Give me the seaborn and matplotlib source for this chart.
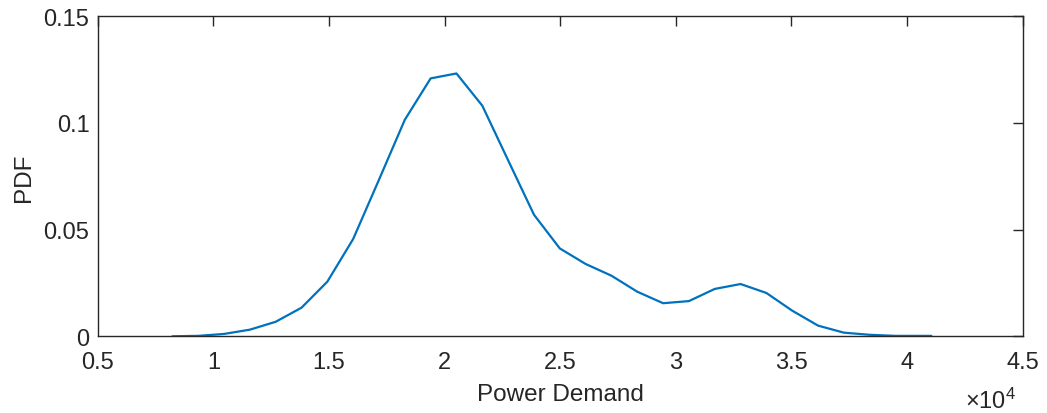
import matplotlib
matplotlib.use("Agg")
import matplotlib.pyplot as plt
import seaborn as sns
import numpy as np

# PDF of power demand
power_demand = [8225, 9342, 10459, 11576, 12693, 13810, 14927, 16044, 17161, 18278,
                19395, 20512, 21629, 22746, 23863, 24980, 26097, 27214, 28331, 29448,
                30565, 31682, 32799, 33916, 35033, 36150, 37267, 38384, 39501, 41050]
pdf = [0.0000, 0.0002, 0.0011, 0.0031, 0.0068, 0.0134, 0.0256, 0.0456, 0.0734, 0.1015,
       0.1209, 0.1232, 0.1081, 0.0825, 0.0570, 0.0412, 0.0339, 0.0284, 0.0209, 0.0155,
       0.0165, 0.0222, 0.0245, 0.0203, 0.0120, 0.0050, 0.0017, 0.0007, 0.0002, 0.0002]

x_ticks = [5000, 10000, 15000, 20000, 25000, 30000, 35000, 40000, 45000]
x_tick_labels = ["0.5", "1", "1.5", "2", "2.5", "3", "3.5", "4", "4.5"]
y_ticks = [0, 0.05, 0.1, 0.15]
y_tick_labels = ["0", "0.05", "0.1", "0.15"]

sns.set_style("white")
plt.rcParams['font.family'] = ['Liberation Sans', 'DejaVu Sans']
plt.rcParams['mathtext.fontset'] = 'custom'
plt.rcParams['mathtext.rm'] = 'Liberation Sans'

dark = "#262626"
fig = plt.figure(figsize=(10.47, 4.14), dpi=100)
ax = fig.add_axes([0.0934, 0.1853, 0.8834, 0.7729])

sns.lineplot(x=power_demand, y=pdf, ax=ax, color="#0072BD", linewidth=1.6)

ax.set_xlim(5000, 45000)
ax.set_ylim(0, 0.15)
ax.set_xticks(x_ticks)
ax.set_xticklabels(x_tick_labels)
ax.set_yticks(y_ticks)
ax.set_yticklabels(y_tick_labels)

ax.tick_params(direction="in", length=7, width=1, colors=dark, labelsize=17,
               top=True, right=True, labelcolor=dark)
ax.tick_params(axis="x", pad=10.5)
ax.tick_params(axis="y", pad=6)
for s in ax.spines.values():
    s.set_color(dark)
    s.set_linewidth(1)

ax.set_xlabel("Power Demand", fontsize=17.5, color=dark, labelpad=7.5)
ax.set_ylabel("PDF", fontsize=17.5, color=dark, labelpad=6)

ax.text(0.938, -0.2, r"$\times\mathregular{10^4}$", transform=ax.transAxes,
        fontsize=17, color=dark, va="center", ha="left")

fig.savefig("out.png", dpi=100)
